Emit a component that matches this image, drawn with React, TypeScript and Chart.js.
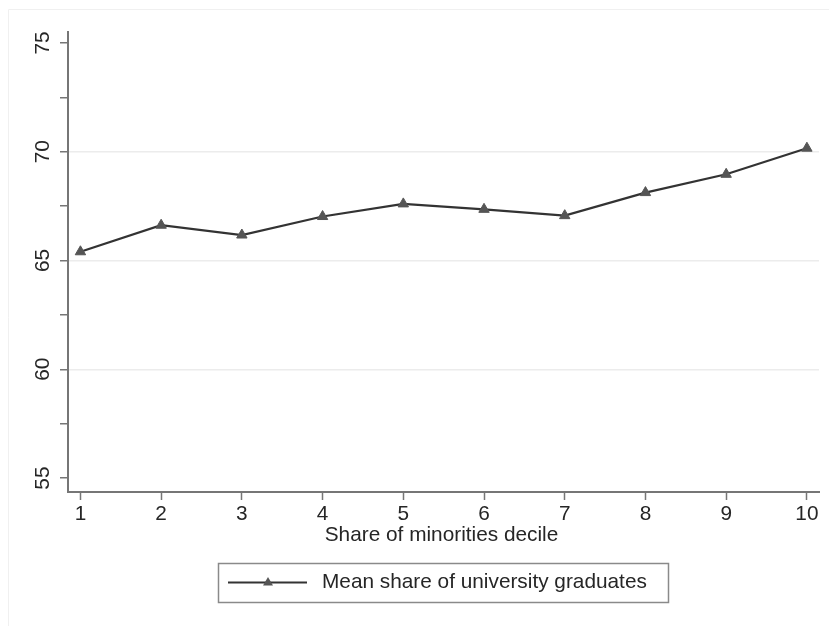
import React, { useEffect, useRef } from 'react';
import { Chart, registerables } from 'chart.js';

Chart.register(...registerables);

const deciles = [1, 2, 3, 4, 5, 6, 7, 8, 9, 10];
const meanShare = [65.4, 66.62, 66.17, 67.02, 67.6, 67.35, 67.06, 68.12, 68.96, 70.16];
const yTickValues = [55, 57.5, 60, 62.5, 65, 67.5, 70, 72.5, 75];
const yLabeled = [55, 60, 65, 70, 75];
const yGridValues = [60, 65, 70];
const xTitle = 'Share of minorities decile';
const seriesLabel = 'Mean share of university graduates';

const FONT = '20.8px "Liberation Sans", Arial, Helvetica, sans-serif';
const TEXT = '#262626';
const AXIS = '#767676';

const textPlugin = {
  id: 'stataText',
  afterDraw(chart: any) {
    const ctx = chart.ctx;
    const xs = chart.scales.x;
    const ys = chart.scales.y;
    ctx.save();
    // faint outer frame
    ctx.strokeStyle = '#f0f0f0';
    ctx.lineWidth = 1;
    ctx.beginPath();
    ctx.moveTo(8.5, 626);
    ctx.lineTo(8.5, 9.5);
    ctx.lineTo(829, 9.5);
    ctx.stroke();

    ctx.font = FONT;
    ctx.fillStyle = TEXT;
    ctx.textBaseline = 'middle';
    ctx.textAlign = 'center';
    // x tick labels
    deciles.forEach((v) => {
      ctx.fillText(String(v), xs.getPixelForValue(v), 514);
    });
    // x title
    ctx.fillText(xTitle, 441.5, 535);
    // y labels rotated
    yLabeled.forEach((v) => {
      const y = ys.getPixelForValue(v);
      ctx.save();
      ctx.translate(43, y);
      ctx.rotate(-Math.PI / 2);
      ctx.fillText(String(v), 0, 0);
      ctx.restore();
    });
    // legend
    ctx.strokeStyle = '#8a8a8a';
    ctx.lineWidth = 1.5;
    ctx.strokeRect(218.5, 563.5, 450, 39);
    ctx.strokeStyle = '#333';
    ctx.lineWidth = 2;
    ctx.beginPath();
    ctx.moveTo(228, 582.5);
    ctx.lineTo(307, 582.5);
    ctx.stroke();
    ctx.fillStyle = '#555';
    ctx.beginPath();
    ctx.moveTo(268, 577);
    ctx.lineTo(273, 585.5);
    ctx.lineTo(263, 585.5);
    ctx.closePath();
    ctx.fill();
    ctx.fillStyle = TEXT;
    ctx.textAlign = 'left';
    ctx.fillText(seriesLabel, 322, 582);
    ctx.restore();
  },
};

export default function App() {
  const ref = useRef<HTMLCanvasElement>(null);
  useEffect(() => {
    if (!ref.current) return;
    const chart = new Chart(ref.current, {
      type: 'line',
      data: {
        datasets: [
          {
            label: seriesLabel,
            data: deciles.map((x, i) => ({ x, y: meanShare[i] })),
            borderColor: '#333',
            borderWidth: 2.2,
            tension: 0,
            pointStyle: 'triangle',
            pointRadius: 6,
            pointBackgroundColor: '#555',
            pointBorderColor: '#555',
            pointBorderWidth: 1,
          },
        ],
      },
      plugins: [textPlugin],
      options: {
        responsive: false,
        animation: false,
        layout: { padding: { left: 8, top: 32, right: 10, bottom: 0 } },
        plugins: { legend: { display: false }, tooltip: { enabled: false } },
        scales: {
          x: {
            type: 'linear',
            min: 0.846,
            max: 10.15,
            afterBuildTicks: (s: any) => {
              s.ticks = deciles.map((v) => ({ value: v }));
            },
            afterFit: (s: any) => {
              s.height = 134;
            },
            ticks: { display: false },
            grid: {
              drawOnChartArea: false,
              drawTicks: true,
              tickLength: 8,
              tickColor: AXIS,
              tickWidth: 1.5,
            },
            border: { display: true, color: AXIS, width: 2 },
          },
          y: {
            type: 'linear',
            min: 54.36,
            max: 75.5,
            afterBuildTicks: (s: any) => {
              s.ticks = yTickValues.map((v) => ({ value: v }));
            },
            afterFit: (s: any) => {
              s.width = 60;
            },
            ticks: { display: false },
            grid: {
              drawOnChartArea: true,
              drawTicks: true,
              tickLength: 8,
              tickColor: AXIS,
              tickWidth: 1.5,
              lineWidth: 1.5,
              color: (c: any) =>
                c.tick && yGridValues.includes(c.tick.value) ? '#ececec' : 'rgba(0,0,0,0)',
            },
            border: { display: true, color: AXIS, width: 2 },
          },
        },
      },
    });
    return () => chart.destroy();
  }, []);
  return (
    <div style={{ position: 'absolute', left: 0, top: 0, width: 829, height: 626, background: '#fff' }}>
      <canvas ref={ref} width={829} height={626} />
    </div>
  );
}
